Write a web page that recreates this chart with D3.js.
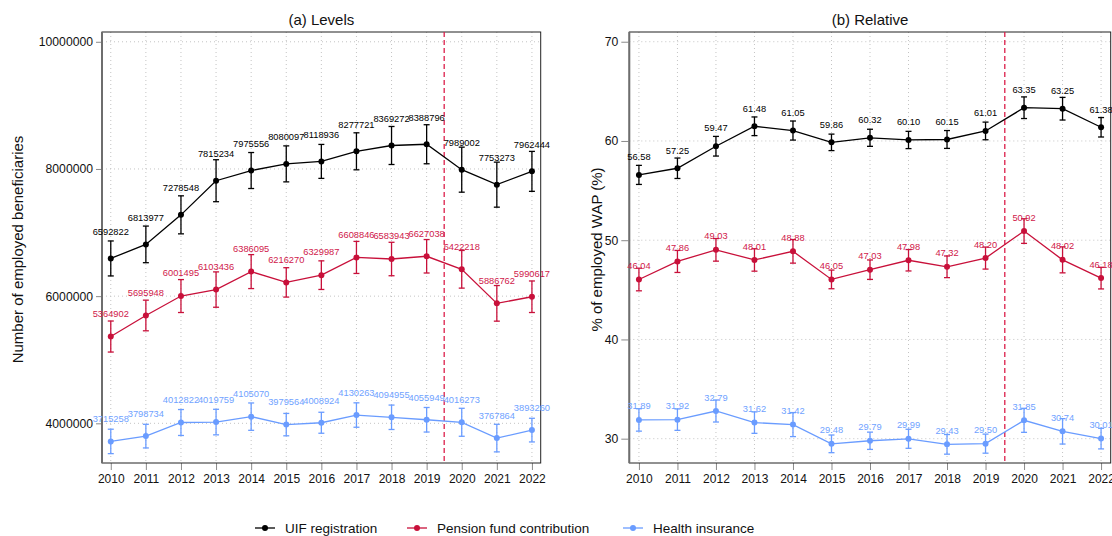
<!DOCTYPE html>
<html>
<head>
<meta charset="utf-8">
<script src="https://cdn.jsdelivr.net/npm/d3@7"></script>
<style>
  html, body { margin: 0; padding: 0; background: #fff; }
  svg { display: block; font-family: "Liberation Sans", Arial, Helvetica, sans-serif; }
</style>
</head>
<body>
<svg id="chart" width="1112" height="536"></svg>
<script>
// Years covered by the survey series
const years = [2010, 2011, 2012, 2013, 2014, 2015, 2016, 2017, 2018, 2019, 2020, 2021, 2022];

// (a) Levels: number of employed beneficiaries
const uifLevel = [6592822, 6813977, 7278548, 7815234, 7975556, 8080097, 8118936, 8277721, 8369272, 8388796, 7989002, 7753273, 7962444];
const pensionLevel = [5364902, 5695948, 6001495, 6103436, 6386095, 6216270, 6329987, 6608846, 6583943, 6627038, 6422218, 5886762, 5990617];
const healthLevel = [3715258, 3798734, 4012822, 4019759, 4105070, 3979564, 4008924, 4130263, 4094955, 4055949, 4016273, 3767864, 3893260];
// half-widths of the 95% intervals
const uifLevelMoe = [275000, 288000, 299000, 330000, 283000, 283000, 267000, 291000, 299000, 307000, 354000, 354000, 314000];
const pensionLevelMoe = [244000, 241000, 259000, 278000, 267000, 231000, 225000, 252000, 263000, 263000, 296000, 280000, 248000];
const healthLevelMoe = [192000, 186000, 204000, 201000, 215000, 176000, 165000, 192000, 192000, 193000, 220000, 217000, 186000];

// (b) Relative: % of employed working-age population
const uifShare = [56.58, 57.25, 59.47, 61.48, 61.05, 59.86, 60.32, 60.10, 60.15, 61.01, 63.35, 63.25, 61.38];
const pensionShare = [46.04, 47.86, 49.03, 48.01, 48.88, 46.05, 47.03, 47.98, 47.32, 48.20, 50.92, 48.02, 46.18];
const healthShare = [31.89, 31.92, 32.79, 31.62, 31.42, 29.48, 29.79, 29.99, 29.43, 29.50, 31.85, 30.74, 30.01];
const uifShareMoe = [0.96, 1.03, 0.99, 0.94, 0.96, 0.83, 0.86, 0.87, 0.90, 0.89, 1.09, 1.14, 0.98];
const pensionShareMoe = [1.14, 1.11, 1.14, 1.13, 1.19, 0.94, 0.98, 1.08, 1.09, 1.11, 1.24, 1.31, 1.09];
const healthShareMoe = [1.13, 1.08, 1.11, 1.08, 1.21, 0.89, 0.87, 0.96, 0.99, 0.96, 1.21, 1.28, 1.04];

// Axis ticks
const levelTicks = [4000000, 6000000, 8000000, 10000000];
const shareTicks = [30, 40, 50, 60, 70];

const seriesNames = ["UIF registration", "Pension fund contribution", "Health insurance"];
const seriesColors = ["#000000", "#C8103A", "#6A9CFF"];
const labelColors = ["#000000", "#D0184A", "#6FA2FF"];
const breakYear = 2019.5;

const svg = d3.select("#chart");

function panel(opts) {
  const { left, right, top, bottom, yDomain, ticks, tickFmt, title, yTitle, yTitleX,
          series, moes, labelFmt, labelOffsets, tickLen } = opts;
  const x = d3.scaleLinear().domain([2009.75, 2022.25]).range([left, right]);
  const y = d3.scaleLinear().domain(yDomain).range([bottom, top]);
  const g = svg.append("g");

  // dotted grid
  g.selectAll("line.vgrid").data(years).join("line")
    .attr("x1", d => x(d)).attr("x2", d => x(d))
    .attr("y1", top).attr("y2", bottom)
    .attr("stroke", "#c4c4c4").attr("stroke-width", 1).attr("stroke-dasharray", "1,3");
  g.selectAll("line.hgrid").data(ticks).join("line")
    .attr("x1", left).attr("x2", right)
    .attr("y1", d => y(d)).attr("y2", d => y(d))
    .attr("stroke", "#c4c4c4").attr("stroke-width", 1).attr("stroke-dasharray", "1,3");

  // axes
  const yAxis = d3.axisLeft(y).tickValues(ticks).tickFormat(tickFmt).tickSize(tickLen).tickPadding(3);
  const ya = g.append("g").attr("transform", `translate(${left},0)`).call(yAxis);
  ya.select(".domain").remove();
  ya.selectAll(".tick line").attr("stroke", "#8a8a8a").attr("transform", "translate(-1,0)");
  ya.selectAll(".tick text").attr("font-size", 12.2).attr("fill", "#111")
    .attr("font-family", "Liberation Sans, Arial, sans-serif").attr("dx", -1);

  const xAxis = d3.axisBottom(x).tickValues(years).tickFormat(d3.format("d")).tickSize(7).tickPadding(4);
  const xa = g.append("g").attr("transform", `translate(0,${bottom})`).call(xAxis);
  xa.select(".domain").remove();
  xa.selectAll(".tick line").attr("stroke", "#8a8a8a");
  xa.selectAll(".tick text").attr("font-size", 12).attr("fill", "#111")
    .attr("font-family", "Liberation Sans, Arial, sans-serif");

  // frame
  g.append("rect").attr("x", left).attr("y", top)
    .attr("width", right - left).attr("height", bottom - top)
    .attr("fill", "none").attr("stroke", "#222").attr("stroke-width", 1);
  g.append("line").attr("x1", left).attr("x2", left).attr("y1", top).attr("y2", bottom)
    .attr("stroke", "#6e6e6e").attr("stroke-width", 2);

  // policy break
  g.append("line").attr("x1", x(breakYear)).attr("x2", x(breakYear))
    .attr("y1", top).attr("y2", bottom)
    .attr("stroke", "#DC1E4A").attr("stroke-width", 1.3).attr("stroke-dasharray", "5,3");

  // series: line, error bars, points, value labels
  const line = d3.line().x((d, i) => x(years[i])).y(d => y(d));
  series.forEach((vals, s) => {
    const col = seriesColors[s];
    const sg = g.append("g");
    sg.append("path").datum(vals).attr("d", line)
      .attr("fill", "none").attr("stroke", col).attr("stroke-width", 1.3);
    const rows = vals.map((v, i) => ({ yr: years[i], v, m: moes[s][i] }));
    const eb = sg.selectAll("g.eb").data(rows).join("g");
    eb.append("line").attr("x1", d => x(d.yr)).attr("x2", d => x(d.yr))
      .attr("y1", d => y(d.v - d.m)).attr("y2", d => y(d.v + d.m))
      .attr("stroke", col).attr("stroke-width", 1.3);
    [-1, 1].forEach(sign => {
      eb.append("line").attr("x1", d => x(d.yr) - 3).attr("x2", d => x(d.yr) + 3)
        .attr("y1", d => y(d.v + sign * d.m)).attr("y2", d => y(d.v + sign * d.m))
        .attr("stroke", col).attr("stroke-width", 1.3);
    });
    sg.selectAll("circle").data(rows).join("circle")
      .attr("cx", d => x(d.yr)).attr("cy", d => y(d.v)).attr("r", 3)
      .attr("fill", col);
    sg.selectAll("text").data(rows).join("text")
      .attr("x", d => x(d.yr)).attr("y", d => y(d.v) - labelOffsets[s])
      .attr("dy", "0.35em").attr("text-anchor", "middle")
      .attr("font-size", 9.3).attr("fill", labelColors[s])
      .text(d => labelFmt(d.v));
  });

  // titles
  svg.append("text").attr("x", (left + right) / 2).attr("y", 25)
    .attr("text-anchor", "middle").attr("font-size", 15).attr("fill", "#111").text(title);
  svg.append("text").attr("transform", `translate(${yTitleX},${(top + bottom) / 2 + 2}) rotate(-90)`)
    .attr("text-anchor", "middle").attr("dy", "0.35em").attr("font-size", 15).attr("fill", "#111").text(yTitle);
}

panel({
  left: 102, right: 540.7, top: 32, bottom: 463,
  yDomain: [3376000, 10154000], ticks: levelTicks, tickFmt: d3.format("d"),
  title: "(a) Levels", yTitle: "Number of employed beneficiaries", yTitleX: 18,
  series: [uifLevel, pensionLevel, healthLevel],
  moes: [uifLevelMoe, pensionLevelMoe, healthLevelMoe],
  labelFmt: d3.format("d"), labelOffsets: [27, 23, 22.5], tickLen: 5
});

panel({
  left: 629.3, right: 1110.7, top: 32, bottom: 463,
  yDomain: [27.55, 70.98], ticks: shareTicks, tickFmt: d3.format("d"),
  title: "(b) Relative", yTitle: "% of employed WAP (%)", yTitleX: 597,
  series: [uifShare, pensionShare, healthShare],
  moes: [uifShareMoe, pensionShareMoe, healthShareMoe],
  labelFmt: d3.format(".2f"), labelOffsets: [18, 13.7, 13.7], tickLen: 7
});

// legend
const legendX = [255, 407, 623];
const lg = svg.append("g");
seriesNames.forEach((name, i) => {
  const x0 = legendX[i];
  lg.append("line").attr("x1", x0).attr("x2", x0 + 20).attr("y1", 528).attr("y2", 528)
    .attr("stroke", seriesColors[i]).attr("stroke-width", 1.3);
  lg.append("circle").attr("cx", x0 + 10).attr("cy", 528).attr("r", 3).attr("fill", seriesColors[i]);
  lg.append("text").attr("x", x0 + 30).attr("y", 533)
    .attr("font-size", 13.5).attr("fill", "#111").text(name);
});
</script>
</body>
</html>
